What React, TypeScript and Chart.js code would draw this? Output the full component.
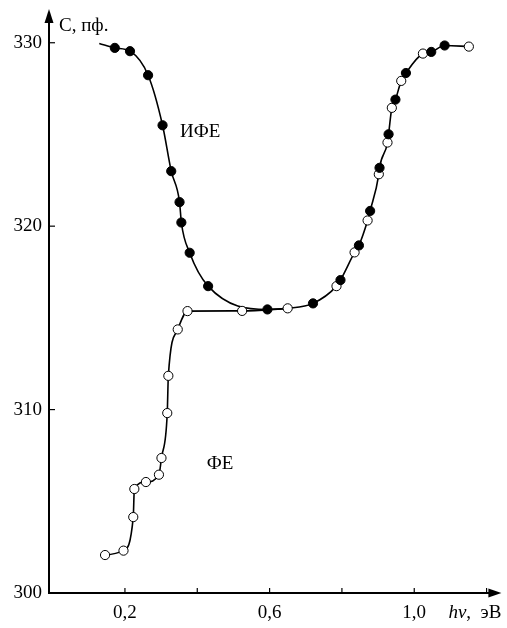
import React, { useEffect, useRef } from 'react';
import { Chart, registerables } from 'chart.js';

Chart.register(...registerables);

// ИФЕ (filled markers)
const ifeX = [0.172, 0.214, 0.264, 0.304, 0.328, 0.351, 0.356, 0.379, 0.430, 0.594, 0.720, 0.796, 0.847, 0.878, 0.904, 0.929, 0.948, 0.977, 1.047, 1.084];
const ifeY = [329.72, 329.54, 328.23, 325.50, 323.00, 321.31, 320.20, 318.55, 316.73, 315.46, 315.79, 317.06, 318.95, 320.83, 323.18, 325.01, 326.90, 328.35, 329.50, 329.85];

// ФЕ (open markers)
const feX = [0.145, 0.196, 0.223, 0.226, 0.258, 0.294, 0.301, 0.317, 0.320, 0.346, 0.373, 0.524, 0.650, 0.785, 0.835, 0.871, 0.902, 0.926, 0.938, 0.964, 1.024, 1.151];
const feY = [302.07, 302.31, 304.14, 305.67, 306.05, 306.45, 307.36, 309.81, 311.84, 314.37, 315.37, 315.38, 315.52, 316.73, 318.57, 320.31, 322.83, 324.56, 326.45, 327.92, 329.41, 329.79];

// start of the ИФЕ fitted curve (no marker)
const ifeCurveStartX = 0.129;
const ifeCurveStartY = 329.96;
// ФЕ curve joins the ИФЕ curve at this energy
const feJoinX = 0.65;

const xTickValues = [0.2, 0.4, 0.6, 0.8, 1.0, 1.2];
const xTickLabels = ['0,2', '', '0,6', '', '1,0', ''];
const yTickValues = [300, 310, 320, 330];
const yTickLabels = ['300', '310', '320', '330'];

const xMin = -0.01;
const xMax = 1.241;
const yMin = 300;
const yMax = 331.84;

const yTitle = 'С, пф.';
const xTitleItalic = 'hν';
const xTitleRest = ',  эВ';
const curveLabels = [
  { text: 'ИФЕ', x: 0.408, y: 325.15 },
  { text: 'ФЕ', x: 0.463, y: 307.03 },
];

const FONT = '"Liberation Serif", "Times New Roman", serif';

export default function App() {
  const ref = useRef<HTMLCanvasElement | null>(null);

  useEffect(() => {
    const canvas = ref.current;
    if (!canvas) return;

    const filled = ifeX.map((x, i) => ({ x, y: ifeY[i] }));
    const open = feX.map((x, i) => ({ x, y: feY[i] }));
    const ifeCurve = [{ x: ifeCurveStartX, y: ifeCurveStartY }, ...filled, ...open.filter((p) => p.x >= feJoinX)].sort((a, b) => a.x - b.x);
    const feCurve = open.filter((p) => p.x <= feJoinX);

    const axesPlugin = {
      id: 'axesArrows',
      beforeDatasetsDraw(chart: any) {
        const { ctx, scales } = chart;
        const xs = scales.x;
        const ys = scales.y;
        const x0 = xs.getPixelForValue(xMin);
        const y0 = ys.getPixelForValue(yMin);
        const yTop = ys.getPixelForValue(yMax);
        const xRight = xs.getPixelForValue(xMax);
        ctx.save();
        ctx.strokeStyle = '#000';
        ctx.fillStyle = '#000';
        ctx.lineWidth = 2;
        ctx.beginPath();
        ctx.moveTo(x0, y0 + 1);
        ctx.lineTo(x0, yTop + 10);
        ctx.stroke();
        ctx.beginPath();
        ctx.moveTo(x0 - 1, y0);
        ctx.lineTo(xRight - 8, y0);
        ctx.stroke();
        // arrows
        ctx.beginPath();
        ctx.moveTo(x0, yTop);
        ctx.lineTo(x0 - 4.5, yTop + 14);
        ctx.lineTo(x0 + 4.5, yTop + 14);
        ctx.closePath();
        ctx.fill();
        ctx.beginPath();
        ctx.moveTo(xRight, y0);
        ctx.lineTo(xRight - 13, y0 - 4.5);
        ctx.lineTo(xRight - 13, y0 + 4.5);
        ctx.closePath();
        ctx.fill();
        // tick marks (inside)
        ctx.lineWidth = 1.2;
        yTickValues.forEach((v) => {
          if (v === yMin) return;
          const py = ys.getPixelForValue(v);
          ctx.beginPath();
          ctx.moveTo(x0, py);
          ctx.lineTo(x0 + 6, py);
          ctx.stroke();
        });
        xTickValues.forEach((v) => {
          const px = xs.getPixelForValue(v);
          ctx.beginPath();
          ctx.moveTo(px, y0);
          ctx.lineTo(px, y0 - 5);
          ctx.stroke();
        });
        // titles
        ctx.font = `19px ${FONT}`;
        ctx.textBaseline = 'middle';
        ctx.textAlign = 'left';
        ctx.fillText(yTitle, x0 + 10, yTop + 17);
        const restW = ctx.measureText(xTitleRest).width;
        ctx.font = `italic 19px ${FONT}`;
        const itW = ctx.measureText(xTitleItalic).width;
        const endX = xRight;
        ctx.fillText(xTitleItalic, endX - restW - itW, y0 + 20);
        ctx.font = `19px ${FONT}`;
        ctx.fillText(xTitleRest, endX - restW, y0 + 20);
        ctx.textAlign = 'center';
        curveLabels.forEach((l) => {
          ctx.fillText(l.text, xs.getPixelForValue(l.x), ys.getPixelForValue(l.y));
        });
        ctx.restore();
      },
    };

    const chart = new Chart(canvas, {
      type: 'line',
      data: {
        datasets: [
          {
            label: 'ИФЕ точки',
            data: filled,
            showLine: false,
            pointRadius: 4.6,
            pointStyle: 'circle',
            pointBackgroundColor: '#000',
            pointBorderColor: '#000',
            pointBorderWidth: 1,
          },
          {
            label: 'ФЕ точки',
            data: open,
            showLine: false,
            pointRadius: 4.6,
            pointStyle: 'circle',
            pointBackgroundColor: '#fff',
            pointBorderColor: '#000',
            pointBorderWidth: 1,
          },
          {
            label: 'ИФЕ',
            data: ifeCurve,
            pointRadius: 0,
            borderColor: '#000',
            borderWidth: 1.6,
            cubicInterpolationMode: 'monotone',
            fill: false,
          },
          {
            label: 'ФЕ',
            data: feCurve,
            pointRadius: 0,
            borderColor: '#000',
            borderWidth: 1.6,
            cubicInterpolationMode: 'monotone',
            fill: false,
          },
        ],
      },
      options: {
        animation: false,
        responsive: false,
        parsing: false as any,
        layout: { padding: { top: 9, right: 0, left: 0, bottom: 0 } },
        plugins: { legend: { display: false }, tooltip: { enabled: false } },
        scales: {
          x: {
            type: 'linear',
            min: xMin,
            max: xMax,
            grid: { display: false, drawTicks: false },
            border: { display: false },
            afterBuildTicks: (s: any) => {
              s.ticks = xTickValues.map((v) => ({ value: v }));
            },
            afterFit: (s: any) => {
              s.height = 35;
              s.paddingLeft = 0;
              s.paddingRight = 0;
            },
            ticks: {
              autoSkip: false,
              maxRotation: 0,
              padding: 9,
              color: '#000',
              font: { family: FONT, size: 19 },
              callback: (_v: any, i: number) => xTickLabels[i],
            },
          },
          y: {
            type: 'linear',
            min: yMin,
            max: yMax,
            grid: { display: false, drawTicks: false },
            border: { display: false },
            afterBuildTicks: (s: any) => {
              s.ticks = yTickValues.map((v) => ({ value: v }));
            },
            afterFit: (s: any) => {
              s.width = 49;
              s.paddingTop = 0;
              s.paddingBottom = 0;
            },
            ticks: {
              padding: 7,
              color: '#000',
              font: { family: FONT, size: 19 },
              callback: (_v: any, i: number) => yTickLabels[i],
            },
          },
        },
      },
      plugins: [axesPlugin],
    });

    return () => chart.destroy();
  }, []);

  return (
    <div style={{ position: 'absolute', left: 0, top: 0, width: 507, height: 628, background: '#fff' }}>
      <canvas ref={ref} width={507} height={628} />
    </div>
  );
}
